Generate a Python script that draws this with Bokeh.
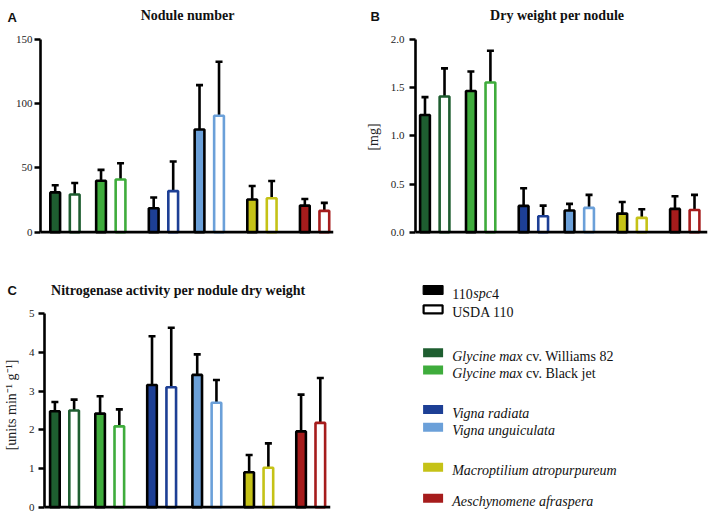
from bokeh.plotting import figure
from bokeh.models import Range1d, FixedTicker, NumeralTickFormatter, ColumnDataSource, Span
from bokeh.layouts import row, column
from bokeh.embed import file_html
from bokeh.resources import INLINE
from bokeh.core.properties import value

# ---------------- data ----------------
species = ["Glycine max cv. Williams 82", "Glycine max cv. Black jet", "Vigna radiata",
           "Vigna unguiculata", "Macroptilium atropurpureum", "Aeschynomene afraspera"]
genus_index = [0, 0, 1, 1, 2, 3]
strains = ["110spc4", "USDA 110"]
colors = ["#1e5e30", "#3fac3c", "#1d3f95", "#6ba0d9", "#c5c217", "#a61c1c"]

panel_letters = ["A", "B", "C"]
panel_titles = ["Nodule number", "Dry weight per nodule", "Nitrogenase activity per nodule dry weight"]

nodule_spc4 = [31.0, 40.0, 18.7, 80.0, 25.4, 20.7]
nodule_spc4_err = [5.5, 8.5, 8.3, 34.5, 10.6, 5.2]
nodule_usda = [29.3, 41.0, 32.0, 90.7, 26.4, 16.6]
nodule_usda_err = [9.0, 12.7, 23.0, 42.0, 13.5, 6.2]
nodule_ticks = [0, 50, 100, 150]

dw_spc4 = [1.216, 1.465, 0.273, 0.225, 0.193, 0.242]
dw_spc4_err = [0.186, 0.203, 0.183, 0.069, 0.121, 0.131]
dw_usda = [1.409, 1.554, 0.166, 0.252, 0.149, 0.231]
dw_usda_err = [0.291, 0.329, 0.110, 0.135, 0.089, 0.156]
dw_ticks = [0, 0.5, 1.0, 1.5, 2.0]

nit_spc4 = [2.48, 2.42, 3.16, 3.42, 0.905, 1.96]
nit_spc4_err = [0.24, 0.45, 1.26, 0.53, 0.445, 0.95]
nit_usda = [2.50, 2.09, 3.10, 2.70, 1.02, 2.18]
nit_usda_err = [0.28, 0.44, 1.54, 0.59, 0.63, 1.16]
nit_ticks = [0, 1, 2, 3, 4, 5]

SERIF = "Liberation Serif"
SANS = "Liberation Sans"
INK = "#111111"


def positions(strain):
    return [s * 2.35 + g * 0.35 + strain for s, g in enumerate(genus_index)]


def yrange(ymax, frame_top, frame_bottom, px_top, px_zero):
    k = (px_zero - px_top) / ymax
    return Range1d(-(frame_bottom - px_zero) / k, ymax + (px_top - frame_top) / k)


def panel(spc4, spc4_err, usda, usda_err, ticks, fmt, ylabel, width, height,
          bl, br, bt, bb, xr, yr, tick_standoff, label_standoff):
    ymax = ticks[-1]
    p = figure(width=width, height=height, x_range=Range1d(*xr), y_range=yr,
               toolbar_location=None, output_backend="svg", x_axis_location=None,
               min_border_left=bl, min_border_right=br, min_border_top=bt, min_border_bottom=bb,
               outline_line_color=None)
    p.grid.visible = False
    ax = p.yaxis[0]
    ax.bounds = (0, ymax)
    ax.ticker = FixedTicker(ticks=ticks)
    if fmt:
        ax.formatter = NumeralTickFormatter(format=fmt)
    ax.major_tick_out = 6
    ax.major_tick_in = 0
    ax.minor_tick_line_color = None
    ax.axis_line_width = 2.6
    ax.major_tick_line_width = 2.6
    ax.major_label_text_font = SERIF
    ax.major_label_text_font_size = "11px"
    ax.major_label_text_color = "#222222"
    ax.major_label_standoff = tick_standoff
    if ylabel:
        ax.axis_label = ylabel
        ax.axis_label_text_font = SERIF
        ax.axis_label_text_font_size = "14px"
        ax.axis_label_text_font_style = "normal"
        ax.axis_label_text_color = "#222222"
        ax.axis_label_standoff = label_standoff

    s0 = ColumnDataSource(dict(x=positions(0), top=spc4, up=[v + e for v, e in zip(spc4, spc4_err)],
                               fill=colors, line=["black"] * len(colors)))
    s1 = ColumnDataSource(dict(x=positions(1), top=usda, up=[v + e for v, e in zip(usda, usda_err)],
                               fill=["white"] * len(colors), line=colors))
    for src in (s0, s1):
        p.segment(x0="x", y0="top", x1="x", y1="up", source=src, line_color="black", line_width=2.6)
        p.scatter(x="x", y="up", source=src, marker="dash", size=7, line_color="black", line_width=2.6)
        p.vbar(x="x", top="top", bottom=0, width=0.5, source=src, fill_color="fill",
               line_color="line", line_width=2.6)
    p.add_layout(Span(location=0, dimension="width", line_color="black", line_width=2.7))
    return p


def strip(width, height, y_top, x_left=0):
    s = figure(width=width, height=height, x_range=Range1d(x_left, x_left + width),
               y_range=Range1d(y_top + height, y_top), toolbar_location=None, output_backend="svg",
               x_axis_location=None, y_axis_location=None, min_border=0, outline_line_color=None)
    s.grid.visible = False
    return s


def txt(fig, x, y, t, font=SERIF, size="14px", style="normal", align="left"):
    fig.text(x=[x], y=[y], text=[t], text_font=value(font), text_font_size=size,
             text_font_style=style, text_baseline="alphabetic", text_align=align, text_color=INK)


# ---------------- layout constants (page pixels) ----------------
W = 709
LEFT_W = 355
TOP_STRIP = 26
ROW1 = 224
MID_STRIP = 49
ROW2 = 214

# top strip: letters + titles of A and B
st = strip(W, TOP_STRIP, 0)
txt(st, 7, 16.7, panel_letters[0], SANS, "13px", "bold")
txt(st, 187, 15, panel_titles[0], SERIF, "14px", "bold", "center")
txt(st, 370, 16.3, panel_letters[1], SANS, "13px", "bold")
txt(st, 556.7, 15, panel_titles[1], SERIF, "14px", "bold", "center")

# row 1 panels (page y 26..250)
pa = panel(nodule_spc4, nodule_spc4_err, nodule_usda, nodule_usda_err, nodule_ticks, None, None,
           LEFT_W, ROW1, 40, 22, 13, 16, (-0.754, 14.27),
           yrange(150, 39, 234, 39, 231.7), 2, 0)
pb = panel(dw_spc4, dw_spc4_err, dw_usda, dw_usda_err, dw_ticks, "0.0", "[mg]",
           W - LEFT_W, ROW1, 60, 2, 13, 16, (-0.486, 14.465),
           yrange(2.0, 39, 234, 39, 231.7), 5, 7)

# strip above panel C (page y 250..299)
y0 = TOP_STRIP + ROW1
sc = strip(LEFT_W, MID_STRIP, y0)
txt(sc, 7, 290, panel_letters[2], SANS, "13px", "bold")
txt(sc, 177.8, 290, panel_titles[2], SERIF, "14px", "bold", "center")

# panel C (page y 299..513)
y1 = y0 + MID_STRIP
pc = panel(nit_spc4, nit_spc4_err, nit_usda, nit_usda_err, nit_ticks, None,
           "[units min\u207b\u00b9 g\u207b\u00b9]",
           LEFT_W, ROW2, 40, 25, 0, 3, (-0.54, 14.33),
           yrange(5, y1, y1 + ROW2 - 3, 313.3, 506.7), 4, 7)

# legend (page x 355..709, y 250..513)
lg = strip(W - LEFT_W, MID_STRIP + ROW2, y0, LEFT_W)

sw_x = 432.6
tx = 451.7
b = 3.5
strain_rows = [289.5, 308.8]
species_rows = [352.2, 369.5, 409.0, 426.7, 466.7, 497.8]

lg.rect(x=[sw_x], y=[strain_rows[0]], width=20, height=9, fill_color="black", line_color="black", line_width=1)
txt(lg, tx, strain_rows[0] + b, "110")
txt(lg, tx + 21.0, strain_rows[0] + b, "spc", style="italic")
txt(lg, tx + 39.7, strain_rows[0] + b, "4")
lg.rect(x=[sw_x], y=[strain_rows[1]], width=19, height=8, fill_color="white", line_color="black", line_width=2.2)
txt(lg, tx, strain_rows[1] + b, strains[1])
lg.rect(x=[sw_x] * 6, y=species_rows, width=20, height=9, fill_color=colors, line_color=None)
for name, yy in zip(species, species_rows):
    if name.startswith("Glycine max"):
        txt(lg, tx, yy + b, "Glycine max", style="italic")
        txt(lg, tx + 73.9, yy + b, name[len("Glycine max "):])
    else:
        txt(lg, tx, yy + b, name, style="italic")

layout = column(st, row(pa, pb), row(column(sc, row(pc)), lg))
open("out.html", "w").write(file_html(layout, INLINE))
